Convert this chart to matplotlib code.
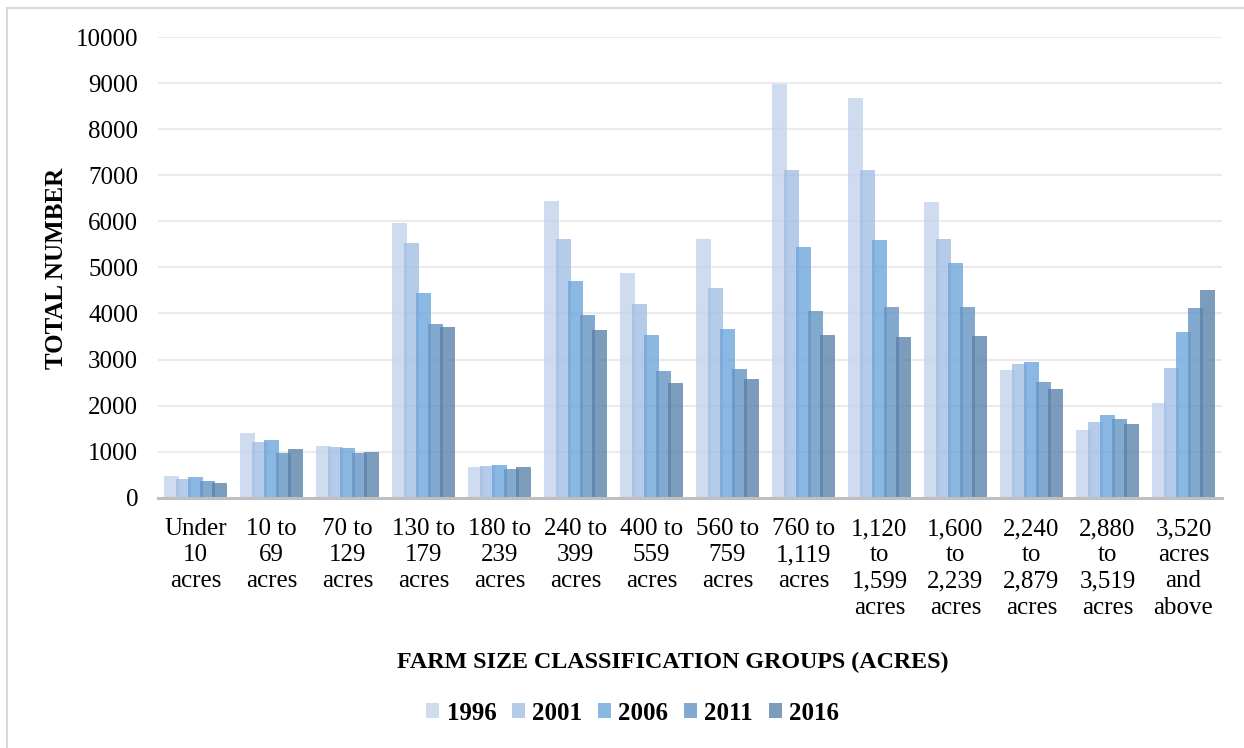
import matplotlib.pyplot as plt
import numpy as np
from matplotlib.patches import Rectangle

plt.rcParams.update({
    "font.family": "serif",
    "font.serif": ["Liberation Serif", "DejaVu Serif"],
})

categories = [
    "Under\n10\nacres", "10 to\n69\nacres", "70 to\n129\nacres", "130 to\n179\nacres",
    "180 to\n239\nacres", "240 to\n399\nacres", "400 to\n559\nacres", "560 to\n759\nacres",
    "760 to\n1,119\nacres", "1,120\nto\n1,599\nacres", "1,600\nto\n2,239\nacres",
    "2,240\nto\n2,879\nacres", "2,880\nto\n3,519\nacres", "3,520\nacres\nand\nabove",
]
years = ["1996", "2001", "2006", "2011", "2016"]

v1996 = [478, 1413, 1130, 5970, 667, 6435, 4870, 5630, 8980, 8674, 6428, 2768, 1471, 2051]
v2001 = [413, 1210, 1087, 5536, 688, 5630, 4210, 4565, 7130, 7109, 5609, 2899, 1645, 2812]
v2006 = [435, 1246, 1080, 4442, 717, 4696, 3543, 3667, 5449, 5587, 5101, 2935, 1783, 3587]
v2011 = [348, 957, 971, 3775, 630, 3964, 2746, 2804, 4058, 4152, 4145, 2515, 1717, 4116]
v2016 = [326, 1065, 1000, 3717, 667, 3652, 2500, 2572, 3522, 3486, 3514, 2348, 1587, 4500]
series = [v1996, v2001, v2006, v2011, v2016]

# base colours chosen so that with alpha they look like the reference over white
colors = ["#c3d3ea", "#a2bfe4", "#6ea6db", "#6594c3", "#5a83a9"]
alpha = 0.8
fs = 18

fig = plt.figure(figsize=(12.44, 7.48), dpi=100)
ax = fig.add_axes([157.5 / 1244, 250.5 / 748, 1064 / 1244, 460 / 748])

x = np.arange(len(categories))
bar_w = 0.207
step = 0.158
group_w = step * 4 + bar_w
for k, (vals, col) in enumerate(zip(series, colors)):
    ax.bar(x - group_w / 2 + k * step, vals, width=bar_w, align="edge",
           color=col, alpha=alpha, linewidth=0, label=years[k], zorder=2)

ax.set_xlim(-0.5, len(categories) - 0.5)
ax.set_ylim(0, 10000)
ax.set_yticks(np.arange(0, 10001, 1000))
ax.set_xticks(x)
ax.set_xticklabels(categories, fontsize=fs, linespacing=1.24)
ax.tick_params(axis="y", labelsize=fs, length=0, pad=14)
ax.tick_params(axis="x", length=0, pad=15)
ax.grid(axis="y", color="#ebebeb", linewidth=1.5, zorder=0)
ax.set_axisbelow(True)
for s in ["top", "right", "left"]:
    ax.spines[s].set_visible(False)
ax.spines["bottom"].set_color("#bfbfbf")
ax.spines["bottom"].set_linewidth(2.2)
ax.spines["bottom"].set_zorder(3)

fig.text(57 / 1244, 1 - 268.5 / 748, "TOTAL NUMBER", rotation=90,
         ha="center", va="center", fontsize=fs, fontweight="bold")
fig.text(673 / 1244, 1 - 662 / 748, "FARM SIZE CLASSIFICATION GROUPS (ACRES)",
         ha="center", va="center", fontsize=17.3, fontweight="bold")

handles = [Rectangle((0, 0), 1, 1, color=c, alpha=alpha, linewidth=0) for c in colors]
fig.legend(handles, years, loc="center", bbox_to_anchor=(0.5085, 1 - 713 / 748),
           ncol=5, frameon=False, prop={"size": fs, "weight": "bold"},
           handlelength=0.52, handleheight=0.52, handletextpad=0.3, columnspacing=0.62)

fig.patches.append(Rectangle((6.5 / 1244, -0.1), 1.2, 1.1 - 8 / 748,
                             transform=fig.transFigure, fill=False,
                             edgecolor="#d9d9d9", linewidth=1.5))

fig.savefig("out.png", dpi=100)
